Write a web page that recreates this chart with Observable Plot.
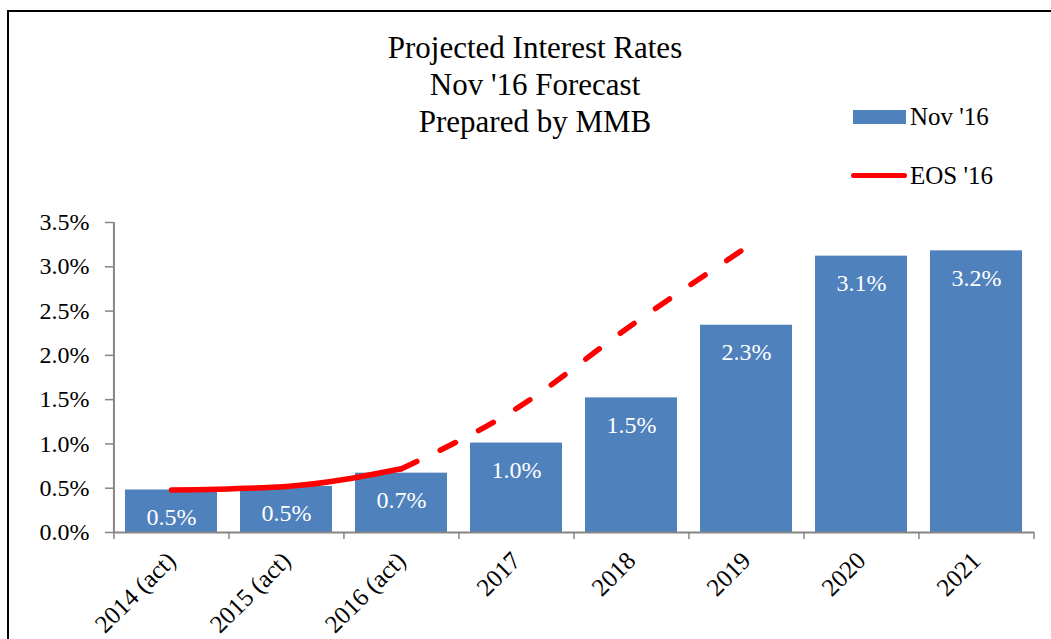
<!DOCTYPE html>
<html>
<head>
<meta charset="utf-8">
<script src="https://cdn.jsdelivr.net/npm/d3@7"></script>
<script src="https://cdn.jsdelivr.net/npm/@observablehq/plot@0.6"></script>
<style>
  html, body { margin: 0; padding: 0; background: #fff; }
  #wrap { position: relative; width: 1051px; height: 639px; overflow: hidden; font-family: "Liberation Serif", "Times New Roman", serif; }
  #frame { position: absolute; left: 7px; top: 10px; width: 1100px; height: 700px; border-left: 2px solid #000; border-top: 2px solid #000; }
  #title { position: absolute; left: 335px; width: 400px; top: 29px; text-align: center; font-size: 31px; line-height: 37px; color: #000; }
  .leg { position: absolute; font-size: 25px; color: #000; line-height: 25px; }
  #chart { position: absolute; left: 0; top: 0; }
</style>
</head>
<body>
<div id="wrap">
  <div id="frame"></div>
  <div id="chart"></div>
  <div id="title"></div>
  <div id="legend"></div>
</div>
<script>
// ---- data ----
const titleLines = ["Projected Interest Rates", "Nov '16 Forecast", "Prepared by MMB"];
const categories = ["2014 (act)", "2015 (act)", "2016 (act)", "2017", "2018", "2019", "2020", "2021"];
const nov16 = [0.0048, 0.0052, 0.0067, 0.0101, 0.0152, 0.0234, 0.0312, 0.0318];
const eosCategories = ["2014 (act)", "2015 (act)", "2016 (act)", "2017", "2018", "2019"];
const eos16 = [0.0048, 0.0052, 0.0072, 0.0140, 0.0234, 0.0322];
const yTicks = [0, 0.005, 0.01, 0.015, 0.02, 0.025, 0.03, 0.035];
const seriesNames = ["Nov '16", "EOS '16"];

// ---- styles ----
const barColor = "#4F81BD";
const lineColor = "#FF0000";
const axisColor = "#868686";
const W = 1051, H = 639;
const mL = 113, mR = 17, mT = 222, mB = 107;
const padInner = 0.2, padOuter = 0.1;
const step = (W - mL - mR) / (categories.length - padInner + 2 * padOuter);

const bars = categories.map((c, i) => ({cat: c, value: nov16[i]}));
const eos = eosCategories.map((c, i) => ({cat: c, value: eos16[i]}));
const solid = eos.slice(0, 3);
const dashed = eos.slice(2);
const pct = d3.format(".1%");

const chart = Plot.plot({
  width: W, height: H,
  marginLeft: mL, marginRight: mR, marginTop: mT, marginBottom: mB,
  style: {fontFamily: "'Liberation Serif', 'Times New Roman', serif", background: "transparent", color: "#000"},
  x: {type: "band", domain: categories, paddingInner: padInner, paddingOuter: padOuter, label: null},
  y: {domain: [0, 0.035], label: null},
  marks: [
    Plot.barY(bars, {x: "cat", y: "value", fill: barColor}),
    Plot.text(bars, {x: "cat", y: "value", text: d => pct(d.value), fill: "#fff", dy: 27, fontSize: 24}),
    // y axis
    Plot.axisY({ticks: yTicks, tickFormat: pct, tickSize: 8, tickPadding: 16, stroke: axisColor, fill: "#000", fontSize: 24, strokeWidth: 1.5, label: null}),
    Plot.ruleX([categories[0]], {x: d => d, y1: () => 0, y2: () => 0.035, dx: -step / 2, stroke: axisColor, strokeWidth: 2}),
    // x axis
    Plot.ruleY([0], {stroke: axisColor, strokeWidth: 2}),
    Plot.ruleX(categories, {x: d => d, y1: () => 0, y2: () => 0, insetBottom: -7, dx: -step / 2, stroke: axisColor, strokeWidth: 1.5}),
    Plot.ruleX([categories[categories.length - 1]], {x: d => d, y1: () => 0, y2: () => 0, insetBottom: -7, dx: step / 2, stroke: axisColor, strokeWidth: 1.5}),
    Plot.axisX({tickSize: 0, tickPadding: 24, tickRotate: -45, fontSize: 25, fill: "#000", label: null}),
    // EOS '16 line
    Plot.line(solid, {x: "cat", y: "value", stroke: lineColor, strokeWidth: 5.5, strokeLinecap: "round", curve: "monotone-x"}),
    Plot.line(dashed, {x: "cat", y: "value", stroke: lineColor, strokeWidth: 5.5, strokeLinecap: "round", strokeDasharray: "17,26", curve: "monotone-x"})
  ]
});
document.getElementById("chart").appendChild(chart);

document.getElementById("title").innerHTML = titleLines.map(t => `<div>${t}</div>`).join("");

const legend = document.getElementById("legend");
legend.innerHTML = `
  <div style="position:absolute;left:853px;top:110px;width:53px;height:14px;background:${barColor}"></div>
  <div class="leg" style="left:910px;top:104px">${seriesNames[0]}</div>
  <div style="position:absolute;left:851px;top:173px;width:56px;height:5px;border-radius:3px;background:${lineColor}"></div>
  <div class="leg" style="left:910px;top:163px">${seriesNames[1]}</div>
`;
</script>
</body>
</html>
